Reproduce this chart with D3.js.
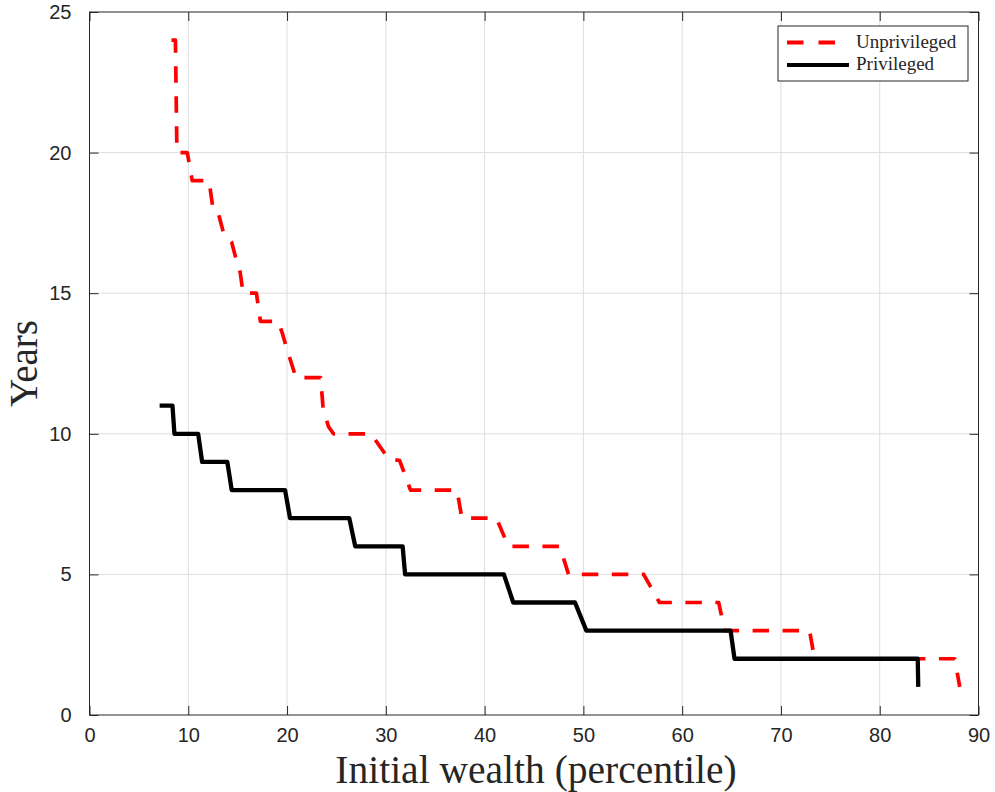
<!DOCTYPE html>
<html>
<head>
<meta charset="utf-8">
<script src="https://cdn.jsdelivr.net/npm/d3@7"></script>
<style>
  html, body { margin: 0; padding: 0; background: #fff; }
  svg { display: block; }
</style>
</head>
<body>
<svg id="chart" width="995" height="792"></svg>
<script>
// ---- data ----
const unprivX = [8.3, 8.7, 8.85, 9.9, 10.4, 12.1, 12.5, 13.0, 13.6, 14.4, 14.85, 15.25, 15.55, 16.9, 17.3, 19.1, 19.5, 20.0, 20.9, 23.4, 23.65, 24.2, 24.7, 28.5, 30.3, 31.4, 32.5, 37.2, 37.7, 41.2, 42.4, 47.6, 48.5, 56.1, 57.7, 63.7, 64.3, 72.9, 73.4, 87.6, 88.1];
const unprivY = [24, 24, 20, 20, 19, 19, 18, 17.9, 17.1, 16.8, 16.2, 15.75, 15, 15, 14, 14, 13.6, 13.0, 12, 12, 10.9, 10.25, 10, 10, 9.1, 9.05, 8, 8, 7, 7, 6, 6, 5, 5, 4, 4, 3, 3, 2, 2, 1];
const privX = [7.1, 8.4, 8.6, 11.0, 11.4, 13.95, 14.4, 19.8, 20.3, 26.3, 26.9, 31.7, 31.95, 41.95, 42.9, 49.15, 50.3, 64.9, 65.3, 83.85, 83.9];
const privY = [11, 11, 10, 10, 9, 9, 8, 8, 7, 7, 6, 6, 5, 5, 4, 4, 3, 3, 2, 2, 1];
const xTicks = [0, 10, 20, 30, 40, 50, 60, 70, 80, 90];
const yTicks = [0, 5, 10, 15, 20, 25];
const seriesNames = ["Unprivileged", "Privileged"];
const xLabel = "Initial wealth (percentile)";
const yLabel = "Years";

// ---- layout ----
const svg = d3.select("#chart");
const L = 89.5, R = 978.5, T = 12, B = 715;
const x = d3.scaleLinear().domain([0, 90]).range([L, R]);
const y = d3.scaleLinear().domain([0, 25]).range([B, T]);
const axisColor = "#262626";
const gridColor = "#dedede";

// grid
const grid = svg.append("g");
grid.selectAll("line.gx").data(xTicks.slice(1, -1)).enter().append("line")
  .attr("x1", d => x(d)).attr("x2", d => x(d)).attr("y1", T).attr("y2", B)
  .attr("stroke", gridColor).attr("stroke-width", 1);
grid.selectAll("line.gy").data(yTicks.slice(1, -1)).enter().append("line")
  .attr("y1", d => y(d)).attr("y2", d => y(d)).attr("x1", L).attr("x2", R)
  .attr("stroke", gridColor).attr("stroke-width", 1);

// data lines
svg.append("clipPath").attr("id", "clip").append("rect")
  .attr("x", L).attr("y", T).attr("width", R - L).attr("height", B - T);
const line = d3.line().x(d => x(d[0])).y(d => y(d[1]));
const unpriv = unprivX.map((v, i) => [v, unprivY[i]]);
const priv = privX.map((v, i) => [v, privY[i]]);
const lines = svg.append("g").attr("clip-path", "url(#clip)");
lines.append("path").datum(unpriv).attr("d", line)
  .attr("fill", "none").attr("stroke", "#ff0000").attr("stroke-width", 3.7)
  .attr("stroke-dasharray", "16.5,13.5").attr("stroke-linejoin", "round");
lines.append("path").datum(priv).attr("d", line)
  .attr("fill", "none").attr("stroke", "#000").attr("stroke-width", 4.3)
  .attr("stroke-linejoin", "round");

// axes (inward ticks, box)
const tickLen = 9;
svg.append("rect").attr("x", L).attr("y", T).attr("width", R - L).attr("height", B - T)
  .attr("fill", "none").attr("stroke", axisColor).attr("stroke-width", 1);
const axB = svg.append("g").attr("transform", `translate(0,${B})`)
  .call(d3.axisBottom(x).tickValues(xTicks).tickSizeInner(-tickLen).tickSizeOuter(0).tickPadding(13));
const axT = svg.append("g").attr("transform", `translate(0,${T})`)
  .call(d3.axisTop(x).tickValues(xTicks).tickSizeInner(-tickLen).tickSizeOuter(0).tickFormat(""));
const axL = svg.append("g").attr("transform", `translate(${L},0)`)
  .call(d3.axisLeft(y).tickValues(yTicks).tickSizeInner(-tickLen).tickSizeOuter(0).tickPadding(18));
const axR = svg.append("g").attr("transform", `translate(${R},0)`)
  .call(d3.axisRight(y).tickValues(yTicks).tickSizeInner(-tickLen).tickSizeOuter(0).tickFormat(""));
[axB, axT, axL, axR].forEach(g => {
  g.select(".domain").remove();
  g.selectAll(".tick line").attr("stroke", axisColor);
  g.selectAll(".tick text").attr("fill", axisColor)
    .style("font-family", "'Liberation Sans', Arial, sans-serif").style("font-size", "20px");
});

// axis labels
svg.append("text").attr("x", 536).attr("y", 783)
  .attr("text-anchor", "middle").attr("fill", axisColor)
  .style("font-family", "'Liberation Serif', 'Times New Roman', serif").style("font-size", "39.5px")
  .text(xLabel);
svg.append("text").attr("transform", `translate(37,${(T + B) / 2}) rotate(-90)`)
  .attr("text-anchor", "middle").attr("fill", axisColor)
  .style("font-family", "'Liberation Serif', 'Times New Roman', serif").style("font-size", "39px")
  .text(yLabel);

// legend
const lg = svg.append("g");
lg.append("rect").attr("x", 778).attr("y", 26).attr("width", 190).attr("height", 55)
  .attr("fill", "#fff").attr("stroke", axisColor).attr("stroke-width", 1);
lg.append("line").attr("x1", 787).attr("x2", 849).attr("y1", 42.5).attr("y2", 42.5)
  .attr("stroke", "#ff0000").attr("stroke-width", 4).attr("stroke-dasharray", "16.5,15");
lg.append("line").attr("x1", 787).attr("x2", 849).attr("y1", 65).attr("y2", 65)
  .attr("stroke", "#000").attr("stroke-width", 4);
lg.selectAll("text").data(seriesNames).enter().append("text")
  .attr("x", 856).attr("y", (d, i) => 48 + i * 22)
  .attr("fill", axisColor)
  .style("font-family", "'Liberation Serif', 'Times New Roman', serif").style("font-size", "19px")
  .text(d => d);
</script>
</body>
</html>
